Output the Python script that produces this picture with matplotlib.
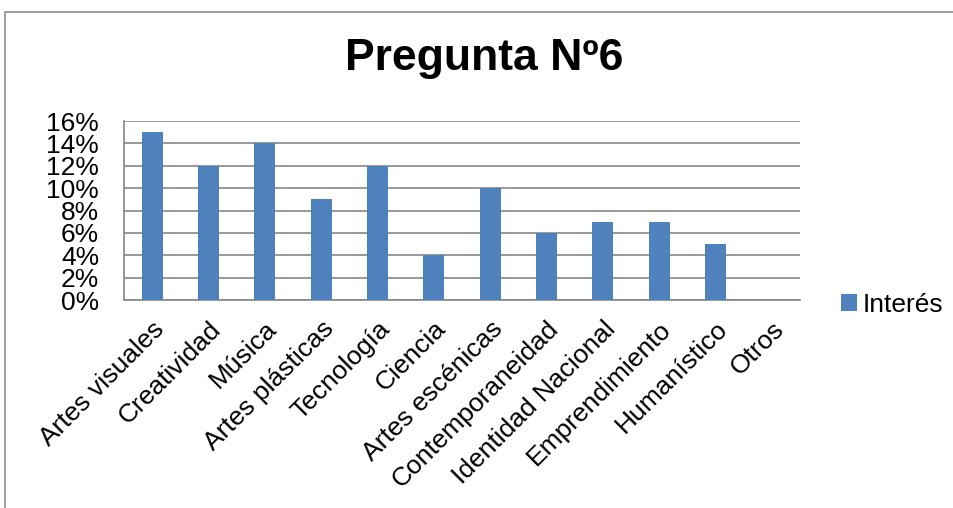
import matplotlib
matplotlib.use("Agg")
import matplotlib.pyplot as plt
from matplotlib.ticker import PercentFormatter
from matplotlib.patches import Rectangle

plt.rcParams['font.family'] = ['Liberation Sans', 'DejaVu Sans']

categorias = ['Artes visuales', 'Creatividad', 'Música', 'Artes plásticas',
              'Tecnología', 'Ciencia', 'Artes escénicas', 'Contemporaneidad',
              'Identidad Nacional', 'Emprendimiento', 'Humanístico', 'Otros']
interes = [0.15, 0.12, 0.14, 0.09, 0.12, 0.04, 0.10, 0.06, 0.07, 0.07, 0.05, 0.0]
yticks = [0, 0.02, 0.04, 0.06, 0.08, 0.10, 0.12, 0.14, 0.16]

fig = plt.figure(figsize=(9.54, 5.08), dpi=100)
ax = fig.add_axes([0.130, 0.4094, 0.7086, 0.3524])

# marco exterior del grafico (cortado a la derecha y abajo)
fig.patches.append(Rectangle((5/954, -0.1), 1.2, 1 - 12/508 + 0.1,
                             transform=fig.transFigure, fill=False,
                             edgecolor='#8c8c8c', linewidth=1.2))

x = range(len(categorias))
ax.bar(x, interes, width=0.375, color='#4F81BD', label='Interés', zorder=3)

ax.set_xlim(-0.5, len(categorias) - 0.5)
ax.set_ylim(0, 0.16)
ax.set_yticks(yticks)
ax.yaxis.set_major_formatter(PercentFormatter(1.0, decimals=0))
ax.grid(axis='y', color='#868686', linewidth=1.2, zorder=0)
ax.tick_params(length=0, labelsize=19)
ax.tick_params(axis='y', pad=18)
ax.tick_params(axis='x', pad=12)
ax.set_xticks(list(x))
ax.set_xticklabels(categorias, rotation=45, ha='right', rotation_mode='anchor',
                   fontsize=19)

for s in ['top', 'right']:
    ax.spines[s].set_visible(False)
for s in ['left', 'bottom']:
    ax.spines[s].set_color('#868686')
    ax.spines[s].set_linewidth(1.2)

fig.text(484/954, 1 - 70/508, 'Pregunta Nº6', ha='center', va='baseline',
         fontsize=32, fontweight='bold')

fig.legend(loc='center left', bbox_to_anchor=(828/954, 1 - 305/508),
           frameon=False, fontsize=19, handlelength=0.6, handleheight=0.6,
           handletextpad=0.2, borderpad=0)

fig.savefig('out.png', dpi=100)
